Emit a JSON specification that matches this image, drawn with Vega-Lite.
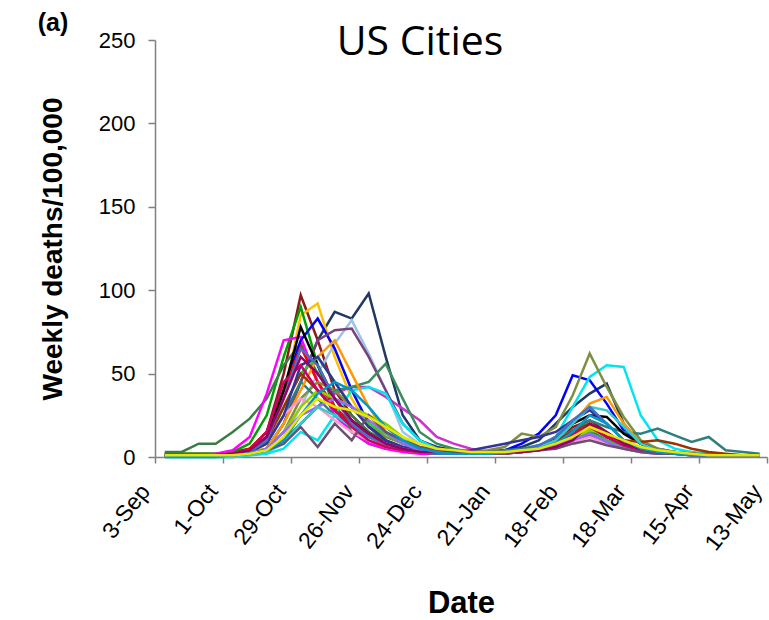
{
"$schema": "https://vega.github.io/schema/vega-lite/v6.json",
"width": 612, "height": 417,
"autosize": {"type": "none"},
"padding": {"left": 155, "top": 40, "right": 2, "bottom": 163},
"background": "white",
"config": {"view": {"stroke": null}, "axis": {"grid": false, "domainColor": "#808080", "domainWidth": 1.5, "tickColor": "#808080", "tickWidth": 1.5, "labelColor": "#000000", "titleColor": "#000000", "labelFont": "Liberation Sans", "titleFont": "Liberation Sans"}},
"title": {"text": "US Cities", "font": "Open Sans", "fontSize": 41, "fontWeight": "normal", "anchor": "middle", "dx": -41, "dy": 85, "offset": 0, "baseline": "alphabetic", "color": "#000000"},
"layer": [
{"data": {"values": [
{"c":"c1","t":"1918-09-07","v":2},{"c":"c1","t":"1918-09-14","v":2},{"c":"c1","t":"1918-09-21","v":2},{"c":"c1","t":"1918-09-28","v":2},{"c":"c1","t":"1918-10-05","v":3},{"c":"c1","t":"1918-10-12","v":5},{"c":"c1","t":"1918-10-19","v":15},{"c":"c1","t":"1918-10-26","v":50},{"c":"c1","t":"1918-11-02","v":97},{"c":"c1","t":"1918-11-09","v":70},{"c":"c1","t":"1918-11-16","v":40},{"c":"c1","t":"1918-11-23","v":25},{"c":"c1","t":"1918-11-30","v":15},{"c":"c1","t":"1918-12-07","v":8},{"c":"c1","t":"1918-12-14","v":5},{"c":"c1","t":"1918-12-21","v":3},{"c":"c1","t":"1918-12-28","v":3},{"c":"c1","t":"1919-01-04","v":2},{"c":"c1","t":"1919-01-11","v":2},{"c":"c1","t":"1919-01-18","v":2},{"c":"c1","t":"1919-01-25","v":3},{"c":"c1","t":"1919-02-01","v":4},{"c":"c1","t":"1919-02-08","v":6},{"c":"c1","t":"1919-02-15","v":10},{"c":"c1","t":"1919-02-22","v":18},{"c":"c1","t":"1919-03-01","v":22},{"c":"c1","t":"1919-03-08","v":15},{"c":"c1","t":"1919-03-15","v":8},{"c":"c1","t":"1919-03-22","v":5},{"c":"c1","t":"1919-03-29","v":3},{"c":"c1","t":"1919-04-05","v":2},{"c":"c1","t":"1919-04-12","v":2},{"c":"c1","t":"1919-04-19","v":1},{"c":"c1","t":"1919-04-26","v":1},{"c":"c1","t":"1919-05-03","v":1},{"c":"c1","t":"1919-05-10","v":1},
{"c":"c2","t":"1918-09-07","v":1},{"c":"c2","t":"1918-09-14","v":1},{"c":"c2","t":"1918-09-21","v":1},{"c":"c2","t":"1918-09-28","v":1},{"c":"c2","t":"1918-10-05","v":1},{"c":"c2","t":"1918-10-12","v":2},{"c":"c2","t":"1918-10-19","v":5},{"c":"c2","t":"1918-10-26","v":20},{"c":"c2","t":"1918-11-02","v":45},{"c":"c2","t":"1918-11-09","v":70},{"c":"c2","t":"1918-11-16","v":87},{"c":"c2","t":"1918-11-23","v":83},{"c":"c2","t":"1918-11-30","v":98},{"c":"c2","t":"1918-12-07","v":60},{"c":"c2","t":"1918-12-14","v":25},{"c":"c2","t":"1918-12-21","v":10},{"c":"c2","t":"1918-12-28","v":6},{"c":"c2","t":"1919-01-04","v":4},{"c":"c2","t":"1919-01-11","v":3},{"c":"c2","t":"1919-01-18","v":3},{"c":"c2","t":"1919-01-25","v":4},{"c":"c2","t":"1919-02-01","v":6},{"c":"c2","t":"1919-02-08","v":10},{"c":"c2","t":"1919-02-15","v":20},{"c":"c2","t":"1919-02-22","v":30},{"c":"c2","t":"1919-03-01","v":38},{"c":"c2","t":"1919-03-08","v":44},{"c":"c2","t":"1919-03-15","v":20},{"c":"c2","t":"1919-03-22","v":8},{"c":"c2","t":"1919-03-29","v":4},{"c":"c2","t":"1919-04-05","v":3},{"c":"c2","t":"1919-04-12","v":2},{"c":"c2","t":"1919-04-19","v":2},{"c":"c2","t":"1919-04-26","v":1},{"c":"c2","t":"1919-05-03","v":1},{"c":"c2","t":"1919-05-10","v":1},
{"c":"c3","t":"1918-09-07","v":1},{"c":"c3","t":"1918-09-14","v":1},{"c":"c3","t":"1918-09-21","v":1},{"c":"c3","t":"1918-09-28","v":1},{"c":"c3","t":"1918-10-05","v":1},{"c":"c3","t":"1918-10-12","v":2},{"c":"c3","t":"1918-10-19","v":8},{"c":"c3","t":"1918-10-26","v":35},{"c":"c3","t":"1918-11-02","v":85},{"c":"c3","t":"1918-11-09","v":92},{"c":"c3","t":"1918-11-16","v":60},{"c":"c3","t":"1918-11-23","v":35},{"c":"c3","t":"1918-11-30","v":18},{"c":"c3","t":"1918-12-07","v":10},{"c":"c3","t":"1918-12-14","v":6},{"c":"c3","t":"1918-12-21","v":4},{"c":"c3","t":"1918-12-28","v":3},{"c":"c3","t":"1919-01-04","v":2},{"c":"c3","t":"1919-01-11","v":2},{"c":"c3","t":"1919-01-18","v":2},{"c":"c3","t":"1919-01-25","v":3},{"c":"c3","t":"1919-02-01","v":4},{"c":"c3","t":"1919-02-08","v":6},{"c":"c3","t":"1919-02-15","v":10},{"c":"c3","t":"1919-02-22","v":15},{"c":"c3","t":"1919-03-01","v":20},{"c":"c3","t":"1919-03-08","v":12},{"c":"c3","t":"1919-03-15","v":8},{"c":"c3","t":"1919-03-22","v":5},{"c":"c3","t":"1919-03-29","v":3},{"c":"c3","t":"1919-04-05","v":2},{"c":"c3","t":"1919-04-12","v":2},{"c":"c3","t":"1919-04-19","v":1},{"c":"c3","t":"1919-04-26","v":1},{"c":"c3","t":"1919-05-03","v":1},{"c":"c3","t":"1919-05-10","v":1},
{"c":"c4","t":"1918-09-07","v":1},{"c":"c4","t":"1918-09-14","v":1},{"c":"c4","t":"1918-09-21","v":1},{"c":"c4","t":"1918-09-28","v":1},{"c":"c4","t":"1918-10-05","v":1},{"c":"c4","t":"1918-10-12","v":1},{"c":"c4","t":"1918-10-19","v":3},{"c":"c4","t":"1918-10-26","v":12},{"c":"c4","t":"1918-11-02","v":30},{"c":"c4","t":"1918-11-09","v":50},{"c":"c4","t":"1918-11-16","v":68},{"c":"c4","t":"1918-11-23","v":82},{"c":"c4","t":"1918-11-30","v":62},{"c":"c4","t":"1918-12-07","v":40},{"c":"c4","t":"1918-12-14","v":15},{"c":"c4","t":"1918-12-21","v":8},{"c":"c4","t":"1918-12-28","v":5},{"c":"c4","t":"1919-01-04","v":3},{"c":"c4","t":"1919-01-11","v":2},{"c":"c4","t":"1919-01-18","v":2},{"c":"c4","t":"1919-01-25","v":3},{"c":"c4","t":"1919-02-01","v":4},{"c":"c4","t":"1919-02-08","v":6},{"c":"c4","t":"1919-02-15","v":9},{"c":"c4","t":"1919-02-22","v":14},{"c":"c4","t":"1919-03-01","v":18},{"c":"c4","t":"1919-03-08","v":12},{"c":"c4","t":"1919-03-15","v":7},{"c":"c4","t":"1919-03-22","v":4},{"c":"c4","t":"1919-03-29","v":3},{"c":"c4","t":"1919-04-05","v":2},{"c":"c4","t":"1919-04-12","v":2},{"c":"c4","t":"1919-04-19","v":1},{"c":"c4","t":"1919-04-26","v":1},{"c":"c4","t":"1919-05-03","v":1},{"c":"c4","t":"1919-05-10","v":1},
{"c":"c5","t":"1918-09-07","v":2},{"c":"c5","t":"1918-09-14","v":2},{"c":"c5","t":"1918-09-21","v":2},{"c":"c5","t":"1918-09-28","v":2},{"c":"c5","t":"1918-10-05","v":3},{"c":"c5","t":"1918-10-12","v":8},{"c":"c5","t":"1918-10-19","v":25},{"c":"c5","t":"1918-10-26","v":60},{"c":"c5","t":"1918-11-02","v":90},{"c":"c5","t":"1918-11-09","v":55},{"c":"c5","t":"1918-11-16","v":30},{"c":"c5","t":"1918-11-23","v":15},{"c":"c5","t":"1918-11-30","v":8},{"c":"c5","t":"1918-12-07","v":5},{"c":"c5","t":"1918-12-14","v":4},{"c":"c5","t":"1918-12-21","v":3},{"c":"c5","t":"1918-12-28","v":2},{"c":"c5","t":"1919-01-04","v":2},{"c":"c5","t":"1919-01-11","v":2},{"c":"c5","t":"1919-01-18","v":2},{"c":"c5","t":"1919-01-25","v":3},{"c":"c5","t":"1919-02-01","v":4},{"c":"c5","t":"1919-02-08","v":5},{"c":"c5","t":"1919-02-15","v":8},{"c":"c5","t":"1919-02-22","v":12},{"c":"c5","t":"1919-03-01","v":16},{"c":"c5","t":"1919-03-08","v":10},{"c":"c5","t":"1919-03-15","v":6},{"c":"c5","t":"1919-03-22","v":4},{"c":"c5","t":"1919-03-29","v":3},{"c":"c5","t":"1919-04-05","v":2},{"c":"c5","t":"1919-04-12","v":2},{"c":"c5","t":"1919-04-19","v":1},{"c":"c5","t":"1919-04-26","v":1},{"c":"c5","t":"1919-05-03","v":1},{"c":"c5","t":"1919-05-10","v":1},
{"c":"c6","t":"1918-09-07","v":3},{"c":"c6","t":"1918-09-14","v":3},{"c":"c6","t":"1918-09-21","v":8},{"c":"c6","t":"1918-09-28","v":8},{"c":"c6","t":"1918-10-05","v":15},{"c":"c6","t":"1918-10-12","v":23},{"c":"c6","t":"1918-10-19","v":35},{"c":"c6","t":"1918-10-26","v":55},{"c":"c6","t":"1918-11-02","v":68},{"c":"c6","t":"1918-11-09","v":50},{"c":"c6","t":"1918-11-16","v":35},{"c":"c6","t":"1918-11-23","v":25},{"c":"c6","t":"1918-11-30","v":15},{"c":"c6","t":"1918-12-07","v":10},{"c":"c6","t":"1918-12-14","v":6},{"c":"c6","t":"1918-12-21","v":4},{"c":"c6","t":"1918-12-28","v":3},{"c":"c6","t":"1919-01-04","v":3},{"c":"c6","t":"1919-01-11","v":3},{"c":"c6","t":"1919-01-18","v":3},{"c":"c6","t":"1919-01-25","v":3},{"c":"c6","t":"1919-02-01","v":4},{"c":"c6","t":"1919-02-08","v":5},{"c":"c6","t":"1919-02-15","v":7},{"c":"c6","t":"1919-02-22","v":10},{"c":"c6","t":"1919-03-01","v":13},{"c":"c6","t":"1919-03-08","v":9},{"c":"c6","t":"1919-03-15","v":6},{"c":"c6","t":"1919-03-22","v":4},{"c":"c6","t":"1919-03-29","v":3},{"c":"c6","t":"1919-04-05","v":2},{"c":"c6","t":"1919-04-12","v":2},{"c":"c6","t":"1919-04-19","v":2},{"c":"c6","t":"1919-04-26","v":1},{"c":"c6","t":"1919-05-03","v":1},{"c":"c6","t":"1919-05-10","v":1},
{"c":"c7","t":"1918-09-07","v":1},{"c":"c7","t":"1918-09-14","v":1},{"c":"c7","t":"1918-09-21","v":1},{"c":"c7","t":"1918-09-28","v":2},{"c":"c7","t":"1918-10-05","v":4},{"c":"c7","t":"1918-10-12","v":12},{"c":"c7","t":"1918-10-19","v":38},{"c":"c7","t":"1918-10-26","v":70},{"c":"c7","t":"1918-11-02","v":72},{"c":"c7","t":"1918-11-09","v":45},{"c":"c7","t":"1918-11-16","v":25},{"c":"c7","t":"1918-11-23","v":15},{"c":"c7","t":"1918-11-30","v":8},{"c":"c7","t":"1918-12-07","v":5},{"c":"c7","t":"1918-12-14","v":3},{"c":"c7","t":"1918-12-21","v":2},{"c":"c7","t":"1918-12-28","v":2},{"c":"c7","t":"1919-01-04","v":2},{"c":"c7","t":"1919-01-11","v":2},{"c":"c7","t":"1919-01-18","v":2},{"c":"c7","t":"1919-01-25","v":2},{"c":"c7","t":"1919-02-01","v":3},{"c":"c7","t":"1919-02-08","v":4},{"c":"c7","t":"1919-02-15","v":6},{"c":"c7","t":"1919-02-22","v":10},{"c":"c7","t":"1919-03-01","v":14},{"c":"c7","t":"1919-03-08","v":9},{"c":"c7","t":"1919-03-15","v":6},{"c":"c7","t":"1919-03-22","v":4},{"c":"c7","t":"1919-03-29","v":3},{"c":"c7","t":"1919-04-05","v":2},{"c":"c7","t":"1919-04-12","v":2},{"c":"c7","t":"1919-04-19","v":1},{"c":"c7","t":"1919-04-26","v":1},{"c":"c7","t":"1919-05-03","v":1},{"c":"c7","t":"1919-05-10","v":1},
{"c":"c8","t":"1918-09-07","v":1},{"c":"c8","t":"1918-09-14","v":1},{"c":"c8","t":"1918-09-21","v":1},{"c":"c8","t":"1918-09-28","v":1},{"c":"c8","t":"1918-10-05","v":1},{"c":"c8","t":"1918-10-12","v":2},{"c":"c8","t":"1918-10-19","v":4},{"c":"c8","t":"1918-10-26","v":10},{"c":"c8","t":"1918-11-02","v":20},{"c":"c8","t":"1918-11-09","v":30},{"c":"c8","t":"1918-11-16","v":38},{"c":"c8","t":"1918-11-23","v":42},{"c":"c8","t":"1918-11-30","v":42},{"c":"c8","t":"1918-12-07","v":36},{"c":"c8","t":"1918-12-14","v":29},{"c":"c8","t":"1918-12-21","v":22},{"c":"c8","t":"1918-12-28","v":12},{"c":"c8","t":"1919-01-04","v":8},{"c":"c8","t":"1919-01-11","v":5},{"c":"c8","t":"1919-01-18","v":3},{"c":"c8","t":"1919-01-25","v":3},{"c":"c8","t":"1919-02-01","v":4},{"c":"c8","t":"1919-02-08","v":6},{"c":"c8","t":"1919-02-15","v":8},{"c":"c8","t":"1919-02-22","v":12},{"c":"c8","t":"1919-03-01","v":18},{"c":"c8","t":"1919-03-08","v":12},{"c":"c8","t":"1919-03-15","v":8},{"c":"c8","t":"1919-03-22","v":5},{"c":"c8","t":"1919-03-29","v":3},{"c":"c8","t":"1919-04-05","v":2},{"c":"c8","t":"1919-04-12","v":2},{"c":"c8","t":"1919-04-19","v":1},{"c":"c8","t":"1919-04-26","v":1},{"c":"c8","t":"1919-05-03","v":1},{"c":"c8","t":"1919-05-10","v":1},
{"c":"c9","t":"1918-09-07","v":1},{"c":"c9","t":"1918-09-14","v":1},{"c":"c9","t":"1918-09-21","v":1},{"c":"c9","t":"1918-09-28","v":1},{"c":"c9","t":"1918-10-05","v":2},{"c":"c9","t":"1918-10-12","v":4},{"c":"c9","t":"1918-10-19","v":10},{"c":"c9","t":"1918-10-26","v":40},{"c":"c9","t":"1918-11-02","v":70},{"c":"c9","t":"1918-11-09","v":83},{"c":"c9","t":"1918-11-16","v":65},{"c":"c9","t":"1918-11-23","v":40},{"c":"c9","t":"1918-11-30","v":20},{"c":"c9","t":"1918-12-07","v":10},{"c":"c9","t":"1918-12-14","v":5},{"c":"c9","t":"1918-12-21","v":3},{"c":"c9","t":"1918-12-28","v":2},{"c":"c9","t":"1919-01-04","v":2},{"c":"c9","t":"1919-01-11","v":2},{"c":"c9","t":"1919-01-18","v":3},{"c":"c9","t":"1919-01-25","v":4},{"c":"c9","t":"1919-02-01","v":8},{"c":"c9","t":"1919-02-08","v":14},{"c":"c9","t":"1919-02-15","v":25},{"c":"c9","t":"1919-02-22","v":49},{"c":"c9","t":"1919-03-01","v":46},{"c":"c9","t":"1919-03-08","v":32},{"c":"c9","t":"1919-03-15","v":16},{"c":"c9","t":"1919-03-22","v":8},{"c":"c9","t":"1919-03-29","v":5},{"c":"c9","t":"1919-04-05","v":3},{"c":"c9","t":"1919-04-12","v":2},{"c":"c9","t":"1919-04-19","v":2},{"c":"c9","t":"1919-04-26","v":1},{"c":"c9","t":"1919-05-03","v":1},{"c":"c9","t":"1919-05-10","v":1},
{"c":"c10","t":"1918-09-07","v":1},{"c":"c10","t":"1918-09-14","v":1},{"c":"c10","t":"1918-09-21","v":1},{"c":"c10","t":"1918-09-28","v":1},{"c":"c10","t":"1918-10-05","v":2},{"c":"c10","t":"1918-10-12","v":5},{"c":"c10","t":"1918-10-19","v":15},{"c":"c10","t":"1918-10-26","v":40},{"c":"c10","t":"1918-11-02","v":66},{"c":"c10","t":"1918-11-09","v":45},{"c":"c10","t":"1918-11-16","v":30},{"c":"c10","t":"1918-11-23","v":20},{"c":"c10","t":"1918-11-30","v":12},{"c":"c10","t":"1918-12-07","v":7},{"c":"c10","t":"1918-12-14","v":4},{"c":"c10","t":"1918-12-21","v":3},{"c":"c10","t":"1918-12-28","v":2},{"c":"c10","t":"1919-01-04","v":2},{"c":"c10","t":"1919-01-11","v":2},{"c":"c10","t":"1919-01-18","v":2},{"c":"c10","t":"1919-01-25","v":3},{"c":"c10","t":"1919-02-01","v":4},{"c":"c10","t":"1919-02-08","v":6},{"c":"c10","t":"1919-02-15","v":10},{"c":"c10","t":"1919-02-22","v":16},{"c":"c10","t":"1919-03-01","v":20},{"c":"c10","t":"1919-03-08","v":12},{"c":"c10","t":"1919-03-15","v":7},{"c":"c10","t":"1919-03-22","v":4},{"c":"c10","t":"1919-03-29","v":3},{"c":"c10","t":"1919-04-05","v":2},{"c":"c10","t":"1919-04-12","v":2},{"c":"c10","t":"1919-04-19","v":1},{"c":"c10","t":"1919-04-26","v":1},{"c":"c10","t":"1919-05-03","v":1},{"c":"c10","t":"1919-05-10","v":1},
{"c":"c11","t":"1918-09-07","v":1},{"c":"c11","t":"1918-09-14","v":1},{"c":"c11","t":"1918-09-21","v":1},{"c":"c11","t":"1918-09-28","v":1},{"c":"c11","t":"1918-10-05","v":1},{"c":"c11","t":"1918-10-12","v":2},{"c":"c11","t":"1918-10-19","v":5},{"c":"c11","t":"1918-10-26","v":20},{"c":"c11","t":"1918-11-02","v":45},{"c":"c11","t":"1918-11-09","v":70},{"c":"c11","t":"1918-11-16","v":76},{"c":"c11","t":"1918-11-23","v":77},{"c":"c11","t":"1918-11-30","v":60},{"c":"c11","t":"1918-12-07","v":40},{"c":"c11","t":"1918-12-14","v":20},{"c":"c11","t":"1918-12-21","v":10},{"c":"c11","t":"1918-12-28","v":5},{"c":"c11","t":"1919-01-04","v":3},{"c":"c11","t":"1919-01-11","v":2},{"c":"c11","t":"1919-01-18","v":2},{"c":"c11","t":"1919-01-25","v":3},{"c":"c11","t":"1919-02-01","v":4},{"c":"c11","t":"1919-02-08","v":6},{"c":"c11","t":"1919-02-15","v":9},{"c":"c11","t":"1919-02-22","v":14},{"c":"c11","t":"1919-03-01","v":18},{"c":"c11","t":"1919-03-08","v":12},{"c":"c11","t":"1919-03-15","v":7},{"c":"c11","t":"1919-03-22","v":4},{"c":"c11","t":"1919-03-29","v":3},{"c":"c11","t":"1919-04-05","v":2},{"c":"c11","t":"1919-04-12","v":2},{"c":"c11","t":"1919-04-19","v":1},{"c":"c11","t":"1919-04-26","v":1},{"c":"c11","t":"1919-05-03","v":1},{"c":"c11","t":"1919-05-10","v":1},
{"c":"c12","t":"1918-09-07","v":0},{"c":"c12","t":"1918-09-14","v":0},{"c":"c12","t":"1918-09-21","v":0},{"c":"c12","t":"1918-09-28","v":0},{"c":"c12","t":"1918-10-05","v":0},{"c":"c12","t":"1918-10-12","v":1},{"c":"c12","t":"1918-10-19","v":2},{"c":"c12","t":"1918-10-26","v":5},{"c":"c12","t":"1918-11-02","v":15},{"c":"c12","t":"1918-11-09","v":10},{"c":"c12","t":"1918-11-16","v":25},{"c":"c12","t":"1918-11-23","v":40},{"c":"c12","t":"1918-11-30","v":42},{"c":"c12","t":"1918-12-07","v":38},{"c":"c12","t":"1918-12-14","v":20},{"c":"c12","t":"1918-12-21","v":10},{"c":"c12","t":"1918-12-28","v":5},{"c":"c12","t":"1919-01-04","v":3},{"c":"c12","t":"1919-01-11","v":2},{"c":"c12","t":"1919-01-18","v":2},{"c":"c12","t":"1919-01-25","v":3},{"c":"c12","t":"1919-02-01","v":4},{"c":"c12","t":"1919-02-08","v":6},{"c":"c12","t":"1919-02-15","v":12},{"c":"c12","t":"1919-02-22","v":30},{"c":"c12","t":"1919-03-01","v":48},{"c":"c12","t":"1919-03-08","v":55},{"c":"c12","t":"1919-03-15","v":54},{"c":"c12","t":"1919-03-22","v":25},{"c":"c12","t":"1919-03-29","v":10},{"c":"c12","t":"1919-04-05","v":5},{"c":"c12","t":"1919-04-12","v":3},{"c":"c12","t":"1919-04-19","v":2},{"c":"c12","t":"1919-04-26","v":1},{"c":"c12","t":"1919-05-03","v":1},{"c":"c12","t":"1919-05-10","v":1},
{"c":"c13","t":"1918-09-07","v":1},{"c":"c13","t":"1918-09-14","v":1},{"c":"c13","t":"1918-09-21","v":1},{"c":"c13","t":"1918-09-28","v":1},{"c":"c13","t":"1918-10-05","v":1},{"c":"c13","t":"1918-10-12","v":2},{"c":"c13","t":"1918-10-19","v":5},{"c":"c13","t":"1918-10-26","v":15},{"c":"c13","t":"1918-11-02","v":35},{"c":"c13","t":"1918-11-09","v":45},{"c":"c13","t":"1918-11-16","v":40},{"c":"c13","t":"1918-11-23","v":30},{"c":"c13","t":"1918-11-30","v":20},{"c":"c13","t":"1918-12-07","v":12},{"c":"c13","t":"1918-12-14","v":8},{"c":"c13","t":"1918-12-21","v":5},{"c":"c13","t":"1918-12-28","v":4},{"c":"c13","t":"1919-01-04","v":3},{"c":"c13","t":"1919-01-11","v":3},{"c":"c13","t":"1919-01-18","v":4},{"c":"c13","t":"1919-01-25","v":6},{"c":"c13","t":"1919-02-01","v":14},{"c":"c13","t":"1919-02-08","v":12},{"c":"c13","t":"1919-02-15","v":18},{"c":"c13","t":"1919-02-22","v":37},{"c":"c13","t":"1919-03-01","v":62},{"c":"c13","t":"1919-03-08","v":42},{"c":"c13","t":"1919-03-15","v":24},{"c":"c13","t":"1919-03-22","v":10},{"c":"c13","t":"1919-03-29","v":5},{"c":"c13","t":"1919-04-05","v":3},{"c":"c13","t":"1919-04-12","v":2},{"c":"c13","t":"1919-04-19","v":2},{"c":"c13","t":"1919-04-26","v":1},{"c":"c13","t":"1919-05-03","v":1},{"c":"c13","t":"1919-05-10","v":1},
{"c":"c14","t":"1918-09-07","v":1},{"c":"c14","t":"1918-09-14","v":1},{"c":"c14","t":"1918-09-21","v":1},{"c":"c14","t":"1918-09-28","v":1},{"c":"c14","t":"1918-10-05","v":1},{"c":"c14","t":"1918-10-12","v":2},{"c":"c14","t":"1918-10-19","v":4},{"c":"c14","t":"1918-10-26","v":10},{"c":"c14","t":"1918-11-02","v":20},{"c":"c14","t":"1918-11-09","v":30},{"c":"c14","t":"1918-11-16","v":40},{"c":"c14","t":"1918-11-23","v":42},{"c":"c14","t":"1918-11-30","v":45},{"c":"c14","t":"1918-12-07","v":56},{"c":"c14","t":"1918-12-14","v":35},{"c":"c14","t":"1918-12-21","v":15},{"c":"c14","t":"1918-12-28","v":8},{"c":"c14","t":"1919-01-04","v":5},{"c":"c14","t":"1919-01-11","v":3},{"c":"c14","t":"1919-01-18","v":3},{"c":"c14","t":"1919-01-25","v":3},{"c":"c14","t":"1919-02-01","v":4},{"c":"c14","t":"1919-02-08","v":5},{"c":"c14","t":"1919-02-15","v":8},{"c":"c14","t":"1919-02-22","v":12},{"c":"c14","t":"1919-03-01","v":15},{"c":"c14","t":"1919-03-08","v":10},{"c":"c14","t":"1919-03-15","v":6},{"c":"c14","t":"1919-03-22","v":4},{"c":"c14","t":"1919-03-29","v":3},{"c":"c14","t":"1919-04-05","v":2},{"c":"c14","t":"1919-04-12","v":2},{"c":"c14","t":"1919-04-19","v":1},{"c":"c14","t":"1919-04-26","v":1},{"c":"c14","t":"1919-05-03","v":1},{"c":"c14","t":"1919-05-10","v":1},
{"c":"c15","t":"1918-09-07","v":1},{"c":"c15","t":"1918-09-14","v":1},{"c":"c15","t":"1918-09-21","v":1},{"c":"c15","t":"1918-09-28","v":1},{"c":"c15","t":"1918-10-05","v":2},{"c":"c15","t":"1918-10-12","v":3},{"c":"c15","t":"1918-10-19","v":8},{"c":"c15","t":"1918-10-26","v":25},{"c":"c15","t":"1918-11-02","v":45},{"c":"c15","t":"1918-11-09","v":35},{"c":"c15","t":"1918-11-16","v":25},{"c":"c15","t":"1918-11-23","v":18},{"c":"c15","t":"1918-11-30","v":12},{"c":"c15","t":"1918-12-07","v":8},{"c":"c15","t":"1918-12-14","v":5},{"c":"c15","t":"1918-12-21","v":4},{"c":"c15","t":"1918-12-28","v":3},{"c":"c15","t":"1919-01-04","v":3},{"c":"c15","t":"1919-01-11","v":3},{"c":"c15","t":"1919-01-18","v":3},{"c":"c15","t":"1919-01-25","v":4},{"c":"c15","t":"1919-02-01","v":5},{"c":"c15","t":"1919-02-08","v":7},{"c":"c15","t":"1919-02-15","v":10},{"c":"c15","t":"1919-02-22","v":16},{"c":"c15","t":"1919-03-01","v":22},{"c":"c15","t":"1919-03-08","v":18},{"c":"c15","t":"1919-03-15","v":15},{"c":"c15","t":"1919-03-22","v":14},{"c":"c15","t":"1919-03-29","v":17},{"c":"c15","t":"1919-04-05","v":13},{"c":"c15","t":"1919-04-12","v":9},{"c":"c15","t":"1919-04-19","v":12},{"c":"c15","t":"1919-04-26","v":4},{"c":"c15","t":"1919-05-03","v":3},{"c":"c15","t":"1919-05-10","v":2},
{"c":"c16","t":"1918-09-07","v":1},{"c":"c16","t":"1918-09-14","v":1},{"c":"c16","t":"1918-09-21","v":1},{"c":"c16","t":"1918-09-28","v":1},{"c":"c16","t":"1918-10-05","v":1},{"c":"c16","t":"1918-10-12","v":2},{"c":"c16","t":"1918-10-19","v":5},{"c":"c16","t":"1918-10-26","v":20},{"c":"c16","t":"1918-11-02","v":40},{"c":"c16","t":"1918-11-09","v":60},{"c":"c16","t":"1918-11-16","v":70},{"c":"c16","t":"1918-11-23","v":50},{"c":"c16","t":"1918-11-30","v":30},{"c":"c16","t":"1918-12-07","v":15},{"c":"c16","t":"1918-12-14","v":8},{"c":"c16","t":"1918-12-21","v":5},{"c":"c16","t":"1918-12-28","v":3},{"c":"c16","t":"1919-01-04","v":2},{"c":"c16","t":"1919-01-11","v":2},{"c":"c16","t":"1919-01-18","v":2},{"c":"c16","t":"1919-01-25","v":3},{"c":"c16","t":"1919-02-01","v":4},{"c":"c16","t":"1919-02-08","v":6},{"c":"c16","t":"1919-02-15","v":10},{"c":"c16","t":"1919-02-22","v":20},{"c":"c16","t":"1919-03-01","v":32},{"c":"c16","t":"1919-03-08","v":36},{"c":"c16","t":"1919-03-15","v":20},{"c":"c16","t":"1919-03-22","v":8},{"c":"c16","t":"1919-03-29","v":4},{"c":"c16","t":"1919-04-05","v":3},{"c":"c16","t":"1919-04-12","v":2},{"c":"c16","t":"1919-04-19","v":1},{"c":"c16","t":"1919-04-26","v":1},{"c":"c16","t":"1919-05-03","v":1},{"c":"c16","t":"1919-05-10","v":1},
{"c":"c17","t":"1918-09-07","v":1},{"c":"c17","t":"1918-09-14","v":1},{"c":"c17","t":"1918-09-21","v":1},{"c":"c17","t":"1918-09-28","v":1},{"c":"c17","t":"1918-10-05","v":2},{"c":"c17","t":"1918-10-12","v":4},{"c":"c17","t":"1918-10-19","v":12},{"c":"c17","t":"1918-10-26","v":40},{"c":"c17","t":"1918-11-02","v":78},{"c":"c17","t":"1918-11-09","v":55},{"c":"c17","t":"1918-11-16","v":35},{"c":"c17","t":"1918-11-23","v":22},{"c":"c17","t":"1918-11-30","v":14},{"c":"c17","t":"1918-12-07","v":8},{"c":"c17","t":"1918-12-14","v":5},{"c":"c17","t":"1918-12-21","v":3},{"c":"c17","t":"1918-12-28","v":2},{"c":"c17","t":"1919-01-04","v":2},{"c":"c17","t":"1919-01-11","v":2},{"c":"c17","t":"1919-01-18","v":2},{"c":"c17","t":"1919-01-25","v":3},{"c":"c17","t":"1919-02-01","v":4},{"c":"c17","t":"1919-02-08","v":6},{"c":"c17","t":"1919-02-15","v":12},{"c":"c17","t":"1919-02-22","v":20},{"c":"c17","t":"1919-03-01","v":25},{"c":"c17","t":"1919-03-08","v":24},{"c":"c17","t":"1919-03-15","v":14},{"c":"c17","t":"1919-03-22","v":8},{"c":"c17","t":"1919-03-29","v":4},{"c":"c17","t":"1919-04-05","v":3},{"c":"c17","t":"1919-04-12","v":2},{"c":"c17","t":"1919-04-19","v":1},{"c":"c17","t":"1919-04-26","v":1},{"c":"c17","t":"1919-05-03","v":1},{"c":"c17","t":"1919-05-10","v":1},
{"c":"c18","t":"1918-09-07","v":1},{"c":"c18","t":"1918-09-14","v":1},{"c":"c18","t":"1918-09-21","v":1},{"c":"c18","t":"1918-09-28","v":1},{"c":"c18","t":"1918-10-05","v":2},{"c":"c18","t":"1918-10-12","v":3},{"c":"c18","t":"1918-10-19","v":8},{"c":"c18","t":"1918-10-26","v":30},{"c":"c18","t":"1918-11-02","v":50},{"c":"c18","t":"1918-11-09","v":60},{"c":"c18","t":"1918-11-16","v":45},{"c":"c18","t":"1918-11-23","v":30},{"c":"c18","t":"1918-11-30","v":20},{"c":"c18","t":"1918-12-07","v":14},{"c":"c18","t":"1918-12-14","v":8},{"c":"c18","t":"1918-12-21","v":4},{"c":"c18","t":"1918-12-28","v":3},{"c":"c18","t":"1919-01-04","v":2},{"c":"c18","t":"1919-01-11","v":2},{"c":"c18","t":"1919-01-18","v":2},{"c":"c18","t":"1919-01-25","v":3},{"c":"c18","t":"1919-02-01","v":3},{"c":"c18","t":"1919-02-08","v":5},{"c":"c18","t":"1919-02-15","v":8},{"c":"c18","t":"1919-02-22","v":12},{"c":"c18","t":"1919-03-01","v":14},{"c":"c18","t":"1919-03-08","v":10},{"c":"c18","t":"1919-03-15","v":5},{"c":"c18","t":"1919-03-22","v":3},{"c":"c18","t":"1919-03-29","v":3},{"c":"c18","t":"1919-04-05","v":2},{"c":"c18","t":"1919-04-12","v":2},{"c":"c18","t":"1919-04-19","v":1},{"c":"c18","t":"1919-04-26","v":1},{"c":"c18","t":"1919-05-03","v":1},{"c":"c18","t":"1919-05-10","v":1},
{"c":"c19","t":"1918-09-07","v":1},{"c":"c19","t":"1918-09-14","v":1},{"c":"c19","t":"1918-09-21","v":1},{"c":"c19","t":"1918-09-28","v":1},{"c":"c19","t":"1918-10-05","v":2},{"c":"c19","t":"1918-10-12","v":4},{"c":"c19","t":"1918-10-19","v":10},{"c":"c19","t":"1918-10-26","v":25},{"c":"c19","t":"1918-11-02","v":35},{"c":"c19","t":"1918-11-09","v":30},{"c":"c19","t":"1918-11-16","v":22},{"c":"c19","t":"1918-11-23","v":15},{"c":"c19","t":"1918-11-30","v":10},{"c":"c19","t":"1918-12-07","v":6},{"c":"c19","t":"1918-12-14","v":4},{"c":"c19","t":"1918-12-21","v":3},{"c":"c19","t":"1918-12-28","v":2},{"c":"c19","t":"1919-01-04","v":2},{"c":"c19","t":"1919-01-11","v":2},{"c":"c19","t":"1919-01-18","v":2},{"c":"c19","t":"1919-01-25","v":2},{"c":"c19","t":"1919-02-01","v":3},{"c":"c19","t":"1919-02-08","v":4},{"c":"c19","t":"1919-02-15","v":6},{"c":"c19","t":"1919-02-22","v":9},{"c":"c19","t":"1919-03-01","v":12},{"c":"c19","t":"1919-03-08","v":8},{"c":"c19","t":"1919-03-15","v":5},{"c":"c19","t":"1919-03-22","v":3},{"c":"c19","t":"1919-03-29","v":2},{"c":"c19","t":"1919-04-05","v":2},{"c":"c19","t":"1919-04-12","v":1},{"c":"c19","t":"1919-04-19","v":1},{"c":"c19","t":"1919-04-26","v":1},{"c":"c19","t":"1919-05-03","v":1},{"c":"c19","t":"1919-05-10","v":1},
{"c":"c20","t":"1918-09-07","v":1},{"c":"c20","t":"1918-09-14","v":1},{"c":"c20","t":"1918-09-21","v":1},{"c":"c20","t":"1918-09-28","v":1},{"c":"c20","t":"1918-10-05","v":1},{"c":"c20","t":"1918-10-12","v":2},{"c":"c20","t":"1918-10-19","v":5},{"c":"c20","t":"1918-10-26","v":15},{"c":"c20","t":"1918-11-02","v":30},{"c":"c20","t":"1918-11-09","v":40},{"c":"c20","t":"1918-11-16","v":35},{"c":"c20","t":"1918-11-23","v":30},{"c":"c20","t":"1918-11-30","v":25},{"c":"c20","t":"1918-12-07","v":20},{"c":"c20","t":"1918-12-14","v":12},{"c":"c20","t":"1918-12-21","v":6},{"c":"c20","t":"1918-12-28","v":4},{"c":"c20","t":"1919-01-04","v":3},{"c":"c20","t":"1919-01-11","v":2},{"c":"c20","t":"1919-01-18","v":2},{"c":"c20","t":"1919-01-25","v":3},{"c":"c20","t":"1919-02-01","v":4},{"c":"c20","t":"1919-02-08","v":5},{"c":"c20","t":"1919-02-15","v":8},{"c":"c20","t":"1919-02-22","v":12},{"c":"c20","t":"1919-03-01","v":16},{"c":"c20","t":"1919-03-08","v":14},{"c":"c20","t":"1919-03-15","v":8},{"c":"c20","t":"1919-03-22","v":4},{"c":"c20","t":"1919-03-29","v":3},{"c":"c20","t":"1919-04-05","v":2},{"c":"c20","t":"1919-04-12","v":2},{"c":"c20","t":"1919-04-19","v":1},{"c":"c20","t":"1919-04-26","v":1},{"c":"c20","t":"1919-05-03","v":1},{"c":"c20","t":"1919-05-10","v":1},
{"c":"c21","t":"1918-09-07","v":1},{"c":"c21","t":"1918-09-14","v":1},{"c":"c21","t":"1918-09-21","v":1},{"c":"c21","t":"1918-09-28","v":1},{"c":"c21","t":"1918-10-05","v":2},{"c":"c21","t":"1918-10-12","v":4},{"c":"c21","t":"1918-10-19","v":10},{"c":"c21","t":"1918-10-26","v":30},{"c":"c21","t":"1918-11-02","v":50},{"c":"c21","t":"1918-11-09","v":40},{"c":"c21","t":"1918-11-16","v":28},{"c":"c21","t":"1918-11-23","v":20},{"c":"c21","t":"1918-11-30","v":14},{"c":"c21","t":"1918-12-07","v":8},{"c":"c21","t":"1918-12-14","v":5},{"c":"c21","t":"1918-12-21","v":3},{"c":"c21","t":"1918-12-28","v":2},{"c":"c21","t":"1919-01-04","v":2},{"c":"c21","t":"1919-01-11","v":2},{"c":"c21","t":"1919-01-18","v":2},{"c":"c21","t":"1919-01-25","v":3},{"c":"c21","t":"1919-02-01","v":4},{"c":"c21","t":"1919-02-08","v":6},{"c":"c21","t":"1919-02-15","v":10},{"c":"c21","t":"1919-02-22","v":15},{"c":"c21","t":"1919-03-01","v":20},{"c":"c21","t":"1919-03-08","v":12},{"c":"c21","t":"1919-03-15","v":10},{"c":"c21","t":"1919-03-22","v":9},{"c":"c21","t":"1919-03-29","v":10},{"c":"c21","t":"1919-04-05","v":8},{"c":"c21","t":"1919-04-12","v":5},{"c":"c21","t":"1919-04-19","v":3},{"c":"c21","t":"1919-04-26","v":2},{"c":"c21","t":"1919-05-03","v":1},{"c":"c21","t":"1919-05-10","v":1},
{"c":"c22","t":"1918-09-07","v":1},{"c":"c22","t":"1918-09-14","v":1},{"c":"c22","t":"1918-09-21","v":1},{"c":"c22","t":"1918-09-28","v":1},{"c":"c22","t":"1918-10-05","v":1},{"c":"c22","t":"1918-10-12","v":3},{"c":"c22","t":"1918-10-19","v":8},{"c":"c22","t":"1918-10-26","v":25},{"c":"c22","t":"1918-11-02","v":55},{"c":"c22","t":"1918-11-09","v":60},{"c":"c22","t":"1918-11-16","v":45},{"c":"c22","t":"1918-11-23","v":30},{"c":"c22","t":"1918-11-30","v":18},{"c":"c22","t":"1918-12-07","v":10},{"c":"c22","t":"1918-12-14","v":6},{"c":"c22","t":"1918-12-21","v":4},{"c":"c22","t":"1918-12-28","v":3},{"c":"c22","t":"1919-01-04","v":3},{"c":"c22","t":"1919-01-11","v":4},{"c":"c22","t":"1919-01-18","v":6},{"c":"c22","t":"1919-01-25","v":8},{"c":"c22","t":"1919-02-01","v":10},{"c":"c22","t":"1919-02-08","v":12},{"c":"c22","t":"1919-02-15","v":15},{"c":"c22","t":"1919-02-22","v":22},{"c":"c22","t":"1919-03-01","v":28},{"c":"c22","t":"1919-03-08","v":20},{"c":"c22","t":"1919-03-15","v":10},{"c":"c22","t":"1919-03-22","v":5},{"c":"c22","t":"1919-03-29","v":3},{"c":"c22","t":"1919-04-05","v":2},{"c":"c22","t":"1919-04-12","v":2},{"c":"c22","t":"1919-04-19","v":1},{"c":"c22","t":"1919-04-26","v":1},{"c":"c22","t":"1919-05-03","v":1},{"c":"c22","t":"1919-05-10","v":1},
{"c":"c23","t":"1918-09-07","v":1},{"c":"c23","t":"1918-09-14","v":1},{"c":"c23","t":"1918-09-21","v":1},{"c":"c23","t":"1918-09-28","v":1},{"c":"c23","t":"1918-10-05","v":1},{"c":"c23","t":"1918-10-12","v":2},{"c":"c23","t":"1918-10-19","v":5},{"c":"c23","t":"1918-10-26","v":15},{"c":"c23","t":"1918-11-02","v":25},{"c":"c23","t":"1918-11-09","v":30},{"c":"c23","t":"1918-11-16","v":35},{"c":"c23","t":"1918-11-23","v":30},{"c":"c23","t":"1918-11-30","v":22},{"c":"c23","t":"1918-12-07","v":15},{"c":"c23","t":"1918-12-14","v":8},{"c":"c23","t":"1918-12-21","v":4},{"c":"c23","t":"1918-12-28","v":3},{"c":"c23","t":"1919-01-04","v":2},{"c":"c23","t":"1919-01-11","v":2},{"c":"c23","t":"1919-01-18","v":2},{"c":"c23","t":"1919-01-25","v":2},{"c":"c23","t":"1919-02-01","v":3},{"c":"c23","t":"1919-02-08","v":4},{"c":"c23","t":"1919-02-15","v":7},{"c":"c23","t":"1919-02-22","v":10},{"c":"c23","t":"1919-03-01","v":14},{"c":"c23","t":"1919-03-08","v":9},{"c":"c23","t":"1919-03-15","v":5},{"c":"c23","t":"1919-03-22","v":3},{"c":"c23","t":"1919-03-29","v":2},{"c":"c23","t":"1919-04-05","v":2},{"c":"c23","t":"1919-04-12","v":1},{"c":"c23","t":"1919-04-19","v":1},{"c":"c23","t":"1919-04-26","v":1},{"c":"c23","t":"1919-05-03","v":1},{"c":"c23","t":"1919-05-10","v":1},
{"c":"c24","t":"1918-09-07","v":0},{"c":"c24","t":"1918-09-14","v":0},{"c":"c24","t":"1918-09-21","v":0},{"c":"c24","t":"1918-09-28","v":0},{"c":"c24","t":"1918-10-05","v":0},{"c":"c24","t":"1918-10-12","v":1},{"c":"c24","t":"1918-10-19","v":3},{"c":"c24","t":"1918-10-26","v":8},{"c":"c24","t":"1918-11-02","v":20},{"c":"c24","t":"1918-11-09","v":30},{"c":"c24","t":"1918-11-16","v":25},{"c":"c24","t":"1918-11-23","v":18},{"c":"c24","t":"1918-11-30","v":12},{"c":"c24","t":"1918-12-07","v":8},{"c":"c24","t":"1918-12-14","v":5},{"c":"c24","t":"1918-12-21","v":3},{"c":"c24","t":"1918-12-28","v":2},{"c":"c24","t":"1919-01-04","v":2},{"c":"c24","t":"1919-01-11","v":2},{"c":"c24","t":"1919-01-18","v":2},{"c":"c24","t":"1919-01-25","v":3},{"c":"c24","t":"1919-02-01","v":4},{"c":"c24","t":"1919-02-08","v":6},{"c":"c24","t":"1919-02-15","v":10},{"c":"c24","t":"1919-02-22","v":20},{"c":"c24","t":"1919-03-01","v":30},{"c":"c24","t":"1919-03-08","v":28},{"c":"c24","t":"1919-03-15","v":18},{"c":"c24","t":"1919-03-22","v":8},{"c":"c24","t":"1919-03-29","v":4},{"c":"c24","t":"1919-04-05","v":3},{"c":"c24","t":"1919-04-12","v":2},{"c":"c24","t":"1919-04-19","v":1},{"c":"c24","t":"1919-04-26","v":1},{"c":"c24","t":"1919-05-03","v":1},{"c":"c24","t":"1919-05-10","v":1},
{"c":"c25","t":"1918-09-07","v":1},{"c":"c25","t":"1918-09-14","v":1},{"c":"c25","t":"1918-09-21","v":1},{"c":"c25","t":"1918-09-28","v":1},{"c":"c25","t":"1918-10-05","v":2},{"c":"c25","t":"1918-10-12","v":4},{"c":"c25","t":"1918-10-19","v":15},{"c":"c25","t":"1918-10-26","v":45},{"c":"c25","t":"1918-11-02","v":55},{"c":"c25","t":"1918-11-09","v":40},{"c":"c25","t":"1918-11-16","v":28},{"c":"c25","t":"1918-11-23","v":18},{"c":"c25","t":"1918-11-30","v":10},{"c":"c25","t":"1918-12-07","v":6},{"c":"c25","t":"1918-12-14","v":4},{"c":"c25","t":"1918-12-21","v":3},{"c":"c25","t":"1918-12-28","v":2},{"c":"c25","t":"1919-01-04","v":2},{"c":"c25","t":"1919-01-11","v":2},{"c":"c25","t":"1919-01-18","v":2},{"c":"c25","t":"1919-01-25","v":2},{"c":"c25","t":"1919-02-01","v":3},{"c":"c25","t":"1919-02-08","v":5},{"c":"c25","t":"1919-02-15","v":8},{"c":"c25","t":"1919-02-22","v":14},{"c":"c25","t":"1919-03-01","v":18},{"c":"c25","t":"1919-03-08","v":12},{"c":"c25","t":"1919-03-15","v":7},{"c":"c25","t":"1919-03-22","v":4},{"c":"c25","t":"1919-03-29","v":3},{"c":"c25","t":"1919-04-05","v":2},{"c":"c25","t":"1919-04-12","v":1},{"c":"c25","t":"1919-04-19","v":1},{"c":"c25","t":"1919-04-26","v":1},{"c":"c25","t":"1919-05-03","v":1},{"c":"c25","t":"1919-05-10","v":1},
{"c":"c26","t":"1918-09-07","v":1},{"c":"c26","t":"1918-09-14","v":1},{"c":"c26","t":"1918-09-21","v":1},{"c":"c26","t":"1918-09-28","v":1},{"c":"c26","t":"1918-10-05","v":1},{"c":"c26","t":"1918-10-12","v":2},{"c":"c26","t":"1918-10-19","v":4},{"c":"c26","t":"1918-10-26","v":8},{"c":"c26","t":"1918-11-02","v":18},{"c":"c26","t":"1918-11-09","v":6},{"c":"c26","t":"1918-11-16","v":20},{"c":"c26","t":"1918-11-23","v":10},{"c":"c26","t":"1918-11-30","v":25},{"c":"c26","t":"1918-12-07","v":15},{"c":"c26","t":"1918-12-14","v":10},{"c":"c26","t":"1918-12-21","v":6},{"c":"c26","t":"1918-12-28","v":4},{"c":"c26","t":"1919-01-04","v":3},{"c":"c26","t":"1919-01-11","v":2},{"c":"c26","t":"1919-01-18","v":2},{"c":"c26","t":"1919-01-25","v":2},{"c":"c26","t":"1919-02-01","v":3},{"c":"c26","t":"1919-02-08","v":4},{"c":"c26","t":"1919-02-15","v":5},{"c":"c26","t":"1919-02-22","v":8},{"c":"c26","t":"1919-03-01","v":10},{"c":"c26","t":"1919-03-08","v":7},{"c":"c26","t":"1919-03-15","v":5},{"c":"c26","t":"1919-03-22","v":3},{"c":"c26","t":"1919-03-29","v":2},{"c":"c26","t":"1919-04-05","v":2},{"c":"c26","t":"1919-04-12","v":1},{"c":"c26","t":"1919-04-19","v":1},{"c":"c26","t":"1919-04-26","v":1},{"c":"c26","t":"1919-05-03","v":1},{"c":"c26","t":"1919-05-10","v":1},
{"c":"c27","t":"1918-09-07","v":1},{"c":"c27","t":"1918-09-14","v":1},{"c":"c27","t":"1918-09-21","v":1},{"c":"c27","t":"1918-09-28","v":1},{"c":"c27","t":"1918-10-05","v":1},{"c":"c27","t":"1918-10-12","v":3},{"c":"c27","t":"1918-10-19","v":10},{"c":"c27","t":"1918-10-26","v":35},{"c":"c27","t":"1918-11-02","v":65},{"c":"c27","t":"1918-11-09","v":55},{"c":"c27","t":"1918-11-16","v":35},{"c":"c27","t":"1918-11-23","v":20},{"c":"c27","t":"1918-11-30","v":12},{"c":"c27","t":"1918-12-07","v":8},{"c":"c27","t":"1918-12-14","v":5},{"c":"c27","t":"1918-12-21","v":3},{"c":"c27","t":"1918-12-28","v":2},{"c":"c27","t":"1919-01-04","v":2},{"c":"c27","t":"1919-01-11","v":2},{"c":"c27","t":"1919-01-18","v":2},{"c":"c27","t":"1919-01-25","v":3},{"c":"c27","t":"1919-02-01","v":4},{"c":"c27","t":"1919-02-08","v":7},{"c":"c27","t":"1919-02-15","v":12},{"c":"c27","t":"1919-02-22","v":22},{"c":"c27","t":"1919-03-01","v":30},{"c":"c27","t":"1919-03-08","v":20},{"c":"c27","t":"1919-03-15","v":10},{"c":"c27","t":"1919-03-22","v":5},{"c":"c27","t":"1919-03-29","v":3},{"c":"c27","t":"1919-04-05","v":2},{"c":"c27","t":"1919-04-12","v":2},{"c":"c27","t":"1919-04-19","v":1},{"c":"c27","t":"1919-04-26","v":1},{"c":"c27","t":"1919-05-03","v":1},{"c":"c27","t":"1919-05-10","v":1},
{"c":"c28","t":"1918-09-07","v":1},{"c":"c28","t":"1918-09-14","v":1},{"c":"c28","t":"1918-09-21","v":1},{"c":"c28","t":"1918-09-28","v":1},{"c":"c28","t":"1918-10-05","v":2},{"c":"c28","t":"1918-10-12","v":4},{"c":"c28","t":"1918-10-19","v":12},{"c":"c28","t":"1918-10-26","v":35},{"c":"c28","t":"1918-11-02","v":60},{"c":"c28","t":"1918-11-09","v":50},{"c":"c28","t":"1918-11-16","v":35},{"c":"c28","t":"1918-11-23","v":22},{"c":"c28","t":"1918-11-30","v":14},{"c":"c28","t":"1918-12-07","v":8},{"c":"c28","t":"1918-12-14","v":5},{"c":"c28","t":"1918-12-21","v":3},{"c":"c28","t":"1918-12-28","v":3},{"c":"c28","t":"1919-01-04","v":3},{"c":"c28","t":"1919-01-11","v":3},{"c":"c28","t":"1919-01-18","v":3},{"c":"c28","t":"1919-01-25","v":3},{"c":"c28","t":"1919-02-01","v":3},{"c":"c28","t":"1919-02-08","v":4},{"c":"c28","t":"1919-02-15","v":6},{"c":"c28","t":"1919-02-22","v":10},{"c":"c28","t":"1919-03-01","v":20},{"c":"c28","t":"1919-03-08","v":15},{"c":"c28","t":"1919-03-15","v":8},{"c":"c28","t":"1919-03-22","v":5},{"c":"c28","t":"1919-03-29","v":3},{"c":"c28","t":"1919-04-05","v":2},{"c":"c28","t":"1919-04-12","v":2},{"c":"c28","t":"1919-04-19","v":1},{"c":"c28","t":"1919-04-26","v":1},{"c":"c28","t":"1919-05-03","v":1},{"c":"c28","t":"1919-05-10","v":1},
{"c":"c29","t":"1918-09-07","v":0},{"c":"c29","t":"1918-09-14","v":0},{"c":"c29","t":"1918-09-21","v":0},{"c":"c29","t":"1918-09-28","v":0},{"c":"c29","t":"1918-10-05","v":1},{"c":"c29","t":"1918-10-12","v":2},{"c":"c29","t":"1918-10-19","v":4},{"c":"c29","t":"1918-10-26","v":10},{"c":"c29","t":"1918-11-02","v":25},{"c":"c29","t":"1918-11-09","v":38},{"c":"c29","t":"1918-11-16","v":45},{"c":"c29","t":"1918-11-23","v":40},{"c":"c29","t":"1918-11-30","v":30},{"c":"c29","t":"1918-12-07","v":18},{"c":"c29","t":"1918-12-14","v":10},{"c":"c29","t":"1918-12-21","v":5},{"c":"c29","t":"1918-12-28","v":3},{"c":"c29","t":"1919-01-04","v":2},{"c":"c29","t":"1919-01-11","v":2},{"c":"c29","t":"1919-01-18","v":2},{"c":"c29","t":"1919-01-25","v":3},{"c":"c29","t":"1919-02-01","v":4},{"c":"c29","t":"1919-02-08","v":5},{"c":"c29","t":"1919-02-15","v":8},{"c":"c29","t":"1919-02-22","v":15},{"c":"c29","t":"1919-03-01","v":25},{"c":"c29","t":"1919-03-08","v":20},{"c":"c29","t":"1919-03-15","v":10},{"c":"c29","t":"1919-03-22","v":5},{"c":"c29","t":"1919-03-29","v":3},{"c":"c29","t":"1919-04-05","v":2},{"c":"c29","t":"1919-04-12","v":1},{"c":"c29","t":"1919-04-19","v":1},{"c":"c29","t":"1919-04-26","v":1},{"c":"c29","t":"1919-05-03","v":1},{"c":"c29","t":"1919-05-10","v":1},
{"c":"c30","t":"1918-09-07","v":1},{"c":"c30","t":"1918-09-14","v":1},{"c":"c30","t":"1918-09-21","v":1},{"c":"c30","t":"1918-09-28","v":1},{"c":"c30","t":"1918-10-05","v":1},{"c":"c30","t":"1918-10-12","v":2},{"c":"c30","t":"1918-10-19","v":4},{"c":"c30","t":"1918-10-26","v":12},{"c":"c30","t":"1918-11-02","v":25},{"c":"c30","t":"1918-11-09","v":35},{"c":"c30","t":"1918-11-16","v":30},{"c":"c30","t":"1918-11-23","v":28},{"c":"c30","t":"1918-11-30","v":24},{"c":"c30","t":"1918-12-07","v":18},{"c":"c30","t":"1918-12-14","v":12},{"c":"c30","t":"1918-12-21","v":8},{"c":"c30","t":"1918-12-28","v":5},{"c":"c30","t":"1919-01-04","v":4},{"c":"c30","t":"1919-01-11","v":3},{"c":"c30","t":"1919-01-18","v":3},{"c":"c30","t":"1919-01-25","v":3},{"c":"c30","t":"1919-02-01","v":4},{"c":"c30","t":"1919-02-08","v":5},{"c":"c30","t":"1919-02-15","v":8},{"c":"c30","t":"1919-02-22","v":12},{"c":"c30","t":"1919-03-01","v":18},{"c":"c30","t":"1919-03-08","v":14},{"c":"c30","t":"1919-03-15","v":10},{"c":"c30","t":"1919-03-22","v":6},{"c":"c30","t":"1919-03-29","v":4},{"c":"c30","t":"1919-04-05","v":3},{"c":"c30","t":"1919-04-12","v":2},{"c":"c30","t":"1919-04-19","v":1},{"c":"c30","t":"1919-04-26","v":1},{"c":"c30","t":"1919-05-03","v":1},{"c":"c30","t":"1919-05-10","v":1}
]},
"mark": {"type": "line", "strokeWidth": 2.5},
"encoding": {
"x": {"field": "t", "type": "temporal",
"scale": {"domain": [{"year": 1918, "month": 9, "date": 3}, {"year": 1919, "month": 5, "date": 13}], "nice": false},
"axis": {"values": [{"year": 1918, "month": 9, "date": 3}, {"year": 1918, "month": 10, "date": 1}, {"year": 1918, "month": 10, "date": 29}, {"year": 1918, "month": 11, "date": 26}, {"year": 1918, "month": 12, "date": 24}, {"year": 1919, "month": 1, "date": 21}, {"year": 1919, "month": 2, "date": 18}, {"year": 1919, "month": 3, "date": 18}, {"year": 1919, "month": 4, "date": 15}, {"year": 1919, "month": 5, "date": 13}],
"format": "%-d-%b", "labelAngle": -52, "labelAlign": "right", "labelBaseline": "middle", "labelFontSize": 23, "tickSize": 6, "labelPadding": 24, "labelOffset": -10, "labelOverlap": false, "labelFlush": false,
"title": "Date", "titleFontSize": 31, "titleFontWeight": "bold", "titlePadding": 34}},
"y": {"field": "v", "type": "quantitative", "scale": {"domain": [0, 250], "nice": false},
"axis": {"values": [0, 50, 100, 150, 200, 250], "labelFontSize": 22, "tickSize": 7, "labelPadding": 13, "title": "Weekly deaths/100,000", "titleFontSize": 28, "titleFontWeight": "bold", "titlePadding": 31}},
"color": {"field": "c", "type": "nominal", "legend": null,
"scale": {"domain": ["c1","c2","c3","c4","c5","c6","c7","c8","c9","c10","c11","c12","c13","c14","c15","c16","c17","c18","c19","c20","c21","c22","c23","c24","c25","c26","c27","c28","c29","c30"],
"range": ["#8B1A1A","#1F3864","#FFC000","#9DC3E6","#00A000","#3A7D44","#FF00FF","#CC33CC","#0000FF","#FF0000","#7B3F7B","#00E5EE","#7F8F3F","#3C8C5C","#2F7F7F","#FF9900","#000000","#33CC33","#FF99CC","#99CC00","#993300","#333399","#9966FF","#33CCCC","#CC0066","#6B4E71","#4472C4","#990066","#0099CC","#E6E600"]}}
}},
{"data": {"values": [{"label": "(a)"}]},
"mark": {"type": "text", "font": "Liberation Sans", "fontSize": 25, "fontWeight": "bold", "align": "center", "baseline": "middle", "color": "#000000"},
"encoding": {"x": {"datum": {"year": 1918, "month": 7, "date": 23}, "type": "temporal"}, "y": {"datum": 260, "type": "quantitative"}, "text": {"field": "label"}}}
]
}
